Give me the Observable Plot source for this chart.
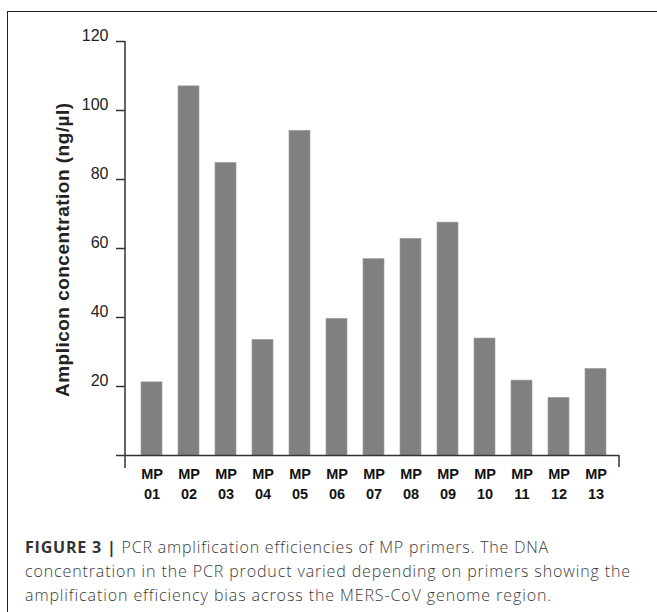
<!DOCTYPE html>
<html>
<head>
<meta charset="utf-8">
<script src="https://cdn.jsdelivr.net/npm/d3@7"></script>
<script src="https://cdn.jsdelivr.net/npm/@observablehq/plot@0.6"></script>
<style>
  html, body { margin: 0; padding: 0; background: #fff; }
  body { width: 657px; height: 612px; position: relative; overflow: hidden; }
  #frame { position: absolute; left: 7px; top: 11px; width: 700px; height: 700px;
           border-top: 1.5px solid #222; border-left: 1.5px solid #222; }
  #chart { position: absolute; left: 0; top: 0; }
  #caption { position: absolute; left: 25px; top: 535px; font-family: "Open Sans", "Liberation Sans", Arial, sans-serif;
             font-weight: 300; font-size: 16px; line-height: 24px; color: #3a3a3a; white-space: nowrap; }
  #caption b { font-weight: 700; color: #333; }
  #caption div { white-space: nowrap; }
</style>
</head>
<body>
<div id="frame"></div>
<div id="chart"></div>
<div id="caption">
  <div class="ln"><b>FIGURE 3 |</b> PCR amplification efficiencies of MP primers. The DNA</div>
  <div class="ln">concentration in the PCR product varied depending on primers showing the</div>
  <div class="ln">amplification efficiency bias across the MERS-CoV genome region.</div>
</div>
<script>
const primers = ["MP 01","MP 02","MP 03","MP 04","MP 05","MP 06","MP 07","MP 08","MP 09","MP 10","MP 11","MP 12","MP 13"];
const concentration = [21.2, 107, 84.8, 33.5, 94.1, 39.6, 56.9, 62.8, 67.5, 33.9, 21.7, 16.7, 25.1];
const yTicks = [20, 40, 60, 80, 100, 120];
const yLabel = "Amplicon concentration (ng/µl)";

const data = primers.map((p, i) => ({primer: p, value: concentration[i]}));

const W = 657, H = 520;
const plot = Plot.plot({
  width: W,
  height: H,
  marginLeft: 116,
  marginRight: 38,
  marginTop: 41,
  marginBottom: 65,
  style: {fontFamily: "'Liberation Sans', Arial, sans-serif", color: "#222", background: "transparent", overflow: "visible"},
  x: {domain: primers, paddingInner: 0.422, paddingOuter: 0.471, align: 0.66, axis: null},
  y: {domain: [0, 120], axis: null},
  marks: [
    Plot.barY(data, {x: "primer", y: "value", fill: "#808080", stroke: "#9a9a9a", strokeWidth: 0.6}),
    Plot.ruleY([0], {stroke: "#333", strokeWidth: 1.5}),
    Plot.axisY({ticks: yTicks, tickSize: 9, dx: 9, tickFormat: () => "", label: null, stroke: "#333", strokeWidth: 1.5}),
    Plot.axisY({ticks: yTicks, tickSize: 0, tickPadding: 8, dy: -6, fontSize: 16, fill: "#222", label: null}),
    Plot.axisX({tickSize: 0, tickPadding: 9, fontSize: 14.5, fontWeight: "bold", lineHeight: 1.4, fill: "#111",
                label: null, tickFormat: d => d.replace(" ", "\n")})
  ]
});
document.getElementById("chart").appendChild(plot);

// Extra axis strokes (Excel-like): vertical y-axis line, right end tick and the y title
const ys = plot.scale("y");
const svg = d3.select(plot);
const axisX = 116 + 9;
svg.append("line").attr("x1", axisX).attr("x2", axisX)
  .attr("y1", ys.apply(120)).attr("y2", ys.apply(0) + 13)
  .attr("stroke", "#333").attr("stroke-width", 1.5);
const rightEnd = W - 38;
svg.append("line").attr("x1", rightEnd).attr("x2", rightEnd)
  .attr("y1", ys.apply(0)).attr("y2", ys.apply(0) + 12)
  .attr("stroke", "#333").attr("stroke-width", 1.5);
const midY = (ys.apply(0) + ys.apply(120)) / 2 + 2;
svg.append("text")
  .attr("transform", `translate(62,${midY}) rotate(-90)`)
  .attr("text-anchor", "middle").attr("dy", "0.35em")
  .attr("font-size", 19).attr("font-weight", "bold").attr("fill", "#222")
  .attr("textLength", 294).attr("lengthAdjust", "spacing")
  .text(yLabel);

// fit caption lines to the reference line widths
const targets = [524, 606, 527];
document.querySelectorAll("#caption .ln").forEach((el, i) => {
  el.style.display = "inline-block";
  const w = el.getBoundingClientRect().width;
  const n = el.textContent.length;
  el.style.letterSpacing = ((targets[i] - w) / n) + "px";
  el.style.display = "block";
});
</script>
</body>
</html>
